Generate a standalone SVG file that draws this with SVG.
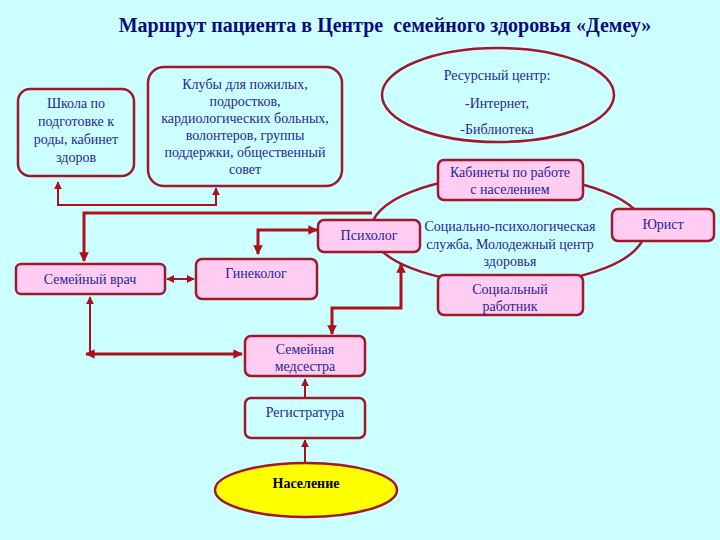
<svg xmlns="http://www.w3.org/2000/svg" width="720" height="540" viewBox="0 0 720 540">
<defs>
<style>
.bg{fill:#ccffff}
.box{stroke:#a0182c;stroke-width:2.5}
.pink{fill:#ffccf2}
.cyan{fill:#ccffff}
.t{font-family:"Liberation Serif","Times New Roman",serif;font-size:14px;fill:#26269a;text-anchor:middle}
.title{font-family:"Liberation Serif","Times New Roman",serif;font-size:20px;font-weight:bold;fill:#0a0a80;text-anchor:middle}
.c{fill:none;stroke:#b0101c}
.thin{stroke-width:2}
.thick{stroke-width:3}
</style>
<marker id="ah" viewBox="0 0 10 10" refX="9" refY="5" markerWidth="4" markerHeight="4" orient="auto-start-reverse" markerUnits="strokeWidth">
<path d="M0,0 L10,5 L0,10 z" fill="#b0101c"/>
</marker>
<marker id="ahs" viewBox="0 0 10 10" refX="9" refY="5" markerWidth="3.2" markerHeight="3.2" orient="auto-start-reverse" markerUnits="strokeWidth">
<path d="M0,0 L10,5 L0,10 z" fill="#b0101c"/>
</marker>
</defs>
<rect class="bg" x="0" y="0" width="720" height="540"/>
<text class="title" x="385" y="32" xml:space="preserve">Маршрут пациента в Центре  семейного здоровья «Демеу»</text>

<g id="connectors">
<path class="c thin" d="M58,182 V205 H216 V188" marker-start="url(#ah)" marker-end="url(#ah)"/>
<path class="c thick" d="M372,213 H84 V261" marker-end="url(#ahs)"/>
<path class="c thick" d="M258,254 V230 H317" marker-start="url(#ahs)" marker-end="url(#ahs)"/>
<path class="c thin" d="M167,279 H194" marker-start="url(#ah)" marker-end="url(#ah)"/>
<path class="c thick" d="M401,264 V308 H332 V334" marker-start="url(#ahs)" marker-end="url(#ahs)"/>
<path class="c thin" d="M90,297 V354"/>
<path class="c thin" d="M90,297 V300" marker-start="url(#ah)"/>
<path class="c thick" d="M86,354 H242" marker-start="url(#ahs)" marker-end="url(#ahs)"/>
<path class="c thin" d="M305,397 V379" marker-end="url(#ah)"/>
<path class="c thin" d="M305,462 V440" marker-end="url(#ah)"/>
</g>

<g id="shkola">
<rect class="box cyan" x="18" y="89" width="116" height="87" rx="12"/>
<text class="t" x="76" y="108">Школа по</text>
<text class="t" x="76" y="126">подготовке к</text>
<text class="t" x="76" y="144">роды, кабинет</text>
<text class="t" x="76" y="162">здоров</text>
</g>

<g id="kluby">
<rect class="box cyan" x="148" y="67" width="194" height="119" rx="16"/>
<text class="t" x="245" y="89">Клубы для пожилых,</text>
<text class="t" x="245" y="106">подростков,</text>
<text class="t" x="245" y="123">кардиологических больных,</text>
<text class="t" x="245" y="140">волонтеров, группы</text>
<text class="t" x="245" y="157">поддержки, общественный</text>
<text class="t" x="245" y="174">совет</text>
</g>

<g id="resurs">
<ellipse class="box cyan" cx="498" cy="95" rx="116" ry="47"/>
<text class="t" x="497" y="80">Ресурсный центр:</text>
<text class="t" x="497" y="108">-Интернет,</text>
<text class="t" x="497" y="134">-Библиотека</text>
</g>

<g id="social-service">
<ellipse class="box cyan" cx="508" cy="230" rx="137" ry="54"/>
<text class="t" x="510" y="231">Социально-психологическая</text>
<text class="t" x="510" y="249">служба, Молодежный центр</text>
<text class="t" x="510" y="266">здоровья</text>
</g>

<g id="kabinety">
<rect class="box pink" x="438" y="160" width="145" height="40" rx="6"/>
<text class="t" x="510" y="177">Кабинеты по работе</text>
<text class="t" x="510" y="194">с населением</text>
</g>

<g id="yurist">
<rect class="box pink" x="612" y="209" width="102" height="32" rx="6"/>
<text class="t" x="663" y="229">Юрист</text>
</g>

<g id="socrab">
<rect class="box pink" x="438" y="275" width="145" height="40" rx="6"/>
<text class="t" x="510" y="294">Социальный</text>
<text class="t" x="510" y="311">работник</text>
</g>

<g id="psiholog">
<rect class="box pink" x="318" y="220" width="102" height="32" rx="6"/>
<text class="t" x="369" y="240">Психолог</text>
</g>

<g id="semvrach">
<rect class="box pink" x="16" y="264" width="149" height="30" rx="5"/>
<text class="t" x="90" y="284">Семейный врач</text>
</g>

<g id="ginekolog">
<rect class="box pink" x="196" y="259" width="121" height="40" rx="6"/>
<text class="t" x="256" y="278">Гинеколог</text>
</g>

<g id="medsestra">
<rect class="box pink" x="245" y="336" width="120" height="40" rx="6"/>
<text class="t" x="305" y="354">Семейная</text>
<text class="t" x="305" y="371">медсестра</text>
</g>

<g id="registratura">
<rect class="box cyan" x="245" y="398" width="120" height="40" rx="6"/>
<text class="t" x="305" y="417">Регистратура</text>
</g>

<g id="naselenie">
<ellipse class="box" cx="306" cy="490" rx="91" ry="27" fill="#ffff00"/>
<text class="t" x="306" y="488" style="fill:#000;font-weight:bold">Население</text>
</g>
</svg>
